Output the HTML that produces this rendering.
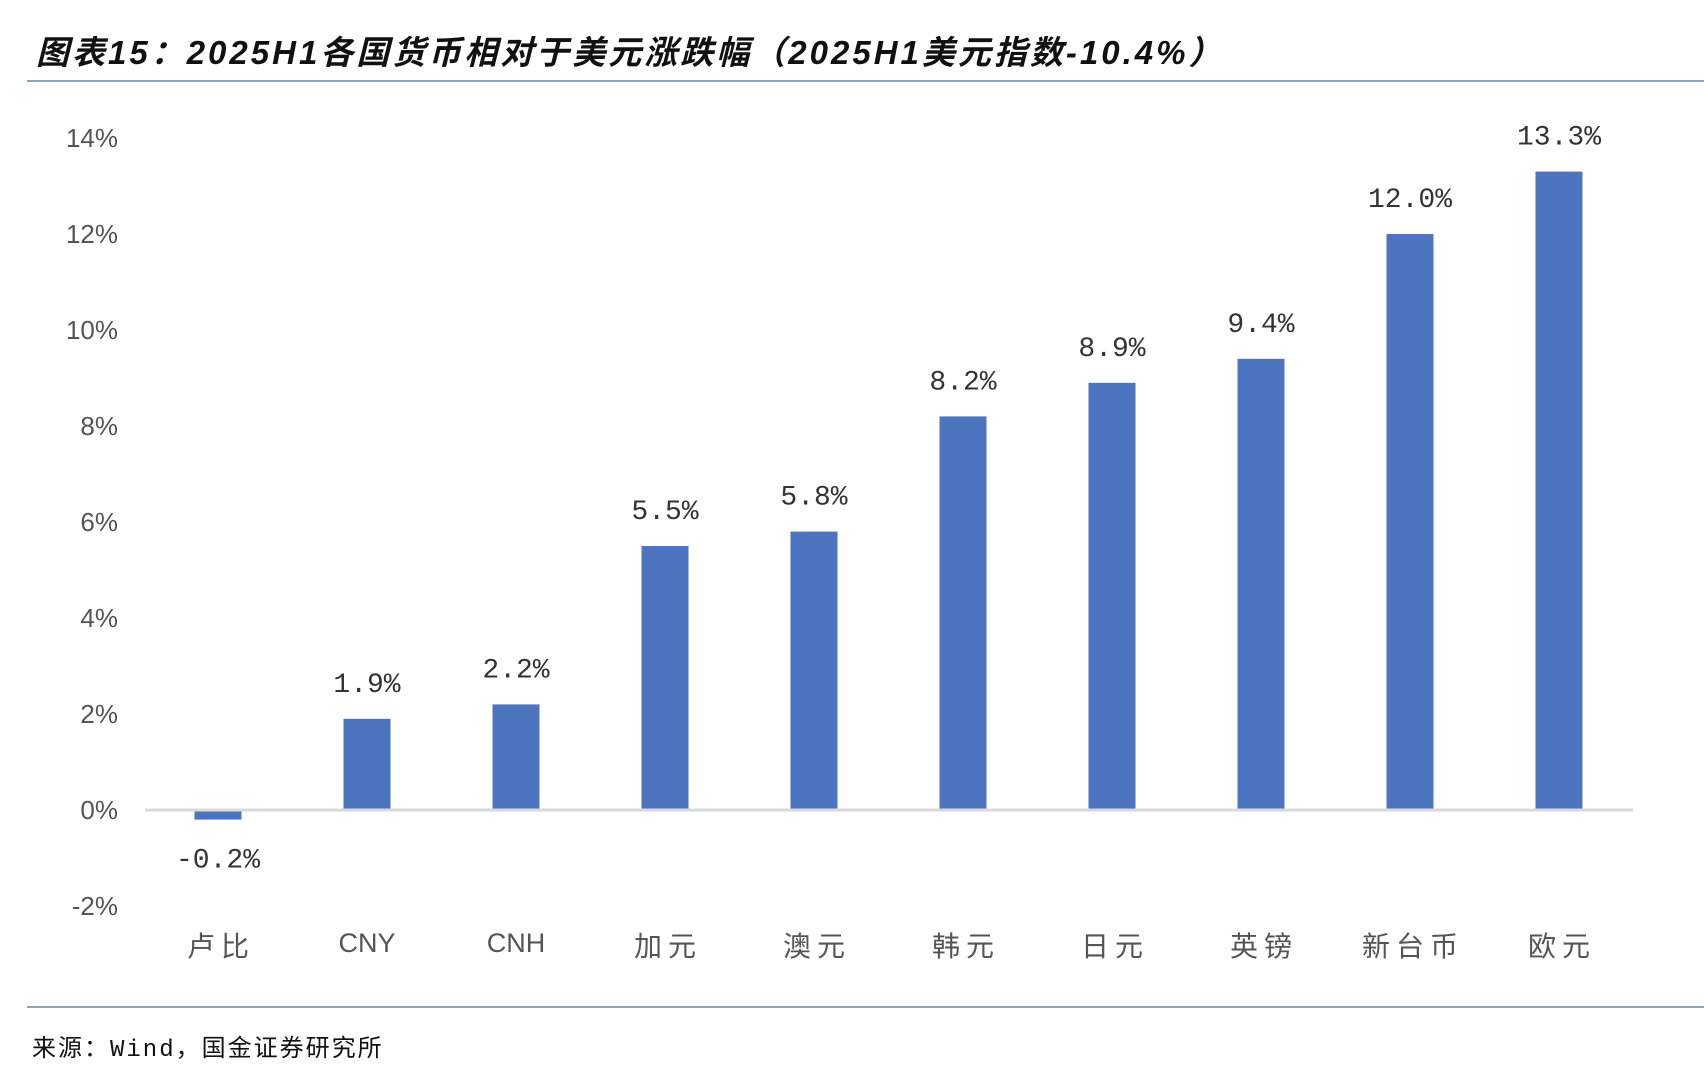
<!DOCTYPE html>
<html><head><meta charset="utf-8"><style>
html,body{margin:0;padding:0;background:#fff;}
body{width:1704px;height:1082px;overflow:hidden;position:relative;font-family:"Liberation Sans","Noto Sans CJK SC",sans-serif;}
#title{position:absolute;left:36px;top:26px;font-size:33px;letter-spacing:3px;font-weight:bold;font-style:italic;color:#111;white-space:nowrap;}
.rule{position:absolute;left:27px;right:0;height:2px;background:#8fa6b8;}
#src{position:absolute;left:32px;top:1028px;font-size:24px;letter-spacing:2px;color:#111;font-family:"Liberation Mono","Noto Sans CJK SC",monospace;}
</style></head><body>
<div id="title">图表15：2025H1各国货币相对于美元涨跌幅（2025H1美元指数-10.4%）</div>
<div class="rule" style="top:80px"></div>
<svg id="chart" width="1704" height="1082" style="position:absolute;left:0;top:0"></svg>
<div class="rule" style="top:1006px"></div>
<div id="src">来源：Wind，国金证券研究所</div>
<script>
const categories=["卢比","CNY","CNH","加元","澳元","韩元","日元","英镑","新台币","欧元"];
const values=[-0.2,1.9,2.2,5.5,5.8,8.2,8.9,9.4,12.0,13.3];
const valueLabels=["-0.2%","1.9%","2.2%","5.5%","5.8%","8.2%","8.9%","9.4%","12.0%","13.3%"];
const yTicks=[-2,0,2,4,6,8,10,12,14];
const yTickLabels=["-2%","0%","2%","4%","6%","8%","10%","12%","14%"];
const NS="http://www.w3.org/2000/svg";
const svg=document.getElementById('chart');
const y=v=>810-v*48;
const x=i=>218+i*149;
function mk(t,a){const e=document.createElementNS(NS,t);for(const k in a)e.setAttribute(k,a[k]);svg.appendChild(e);return e;}
yTicks.forEach((t,i)=>{
 const e=mk('text',{x:118,y:y(t)+9,'text-anchor':'end','font-size':26,fill:'#555','font-family':'Liberation Sans, sans-serif'});
 e.textContent=yTickLabels[i];
 
 
});
values.forEach((v,i)=>{
 const top=Math.min(y(v),y(0)),h=Math.abs(y(v)-y(0));
 const r=mk('rect',{x:x(i)-23.5,y:top,width:47,height:h,fill:'#4d74bf'});
 
 
 const ly=v>=0?y(v)-27:y(v)+48;
 const t=mk('text',{x:x(i),y:ly,'text-anchor':'middle','font-size':28,fill:'#333','font-family':'Liberation Mono, monospace'});
 t.textContent=valueLabels[i];
 
 
 const latin=/^[A-Z]+$/.test(categories[i]);
 const c=mk('text',{x:x(i)+(latin?0:3),y:latin?952:956,'text-anchor':'middle','font-size':latin?27:28,'letter-spacing':latin?0:6,fill:'#555','font-family':'Liberation Sans, Noto Sans CJK SC, sans-serif'});
 c.textContent=categories[i];
 
 
});
const base=mk('line',{x1:145,x2:1633,y1:y(0),y2:y(0),stroke:'#d9d9d9','stroke-width':3});


</script>
</body></html>
